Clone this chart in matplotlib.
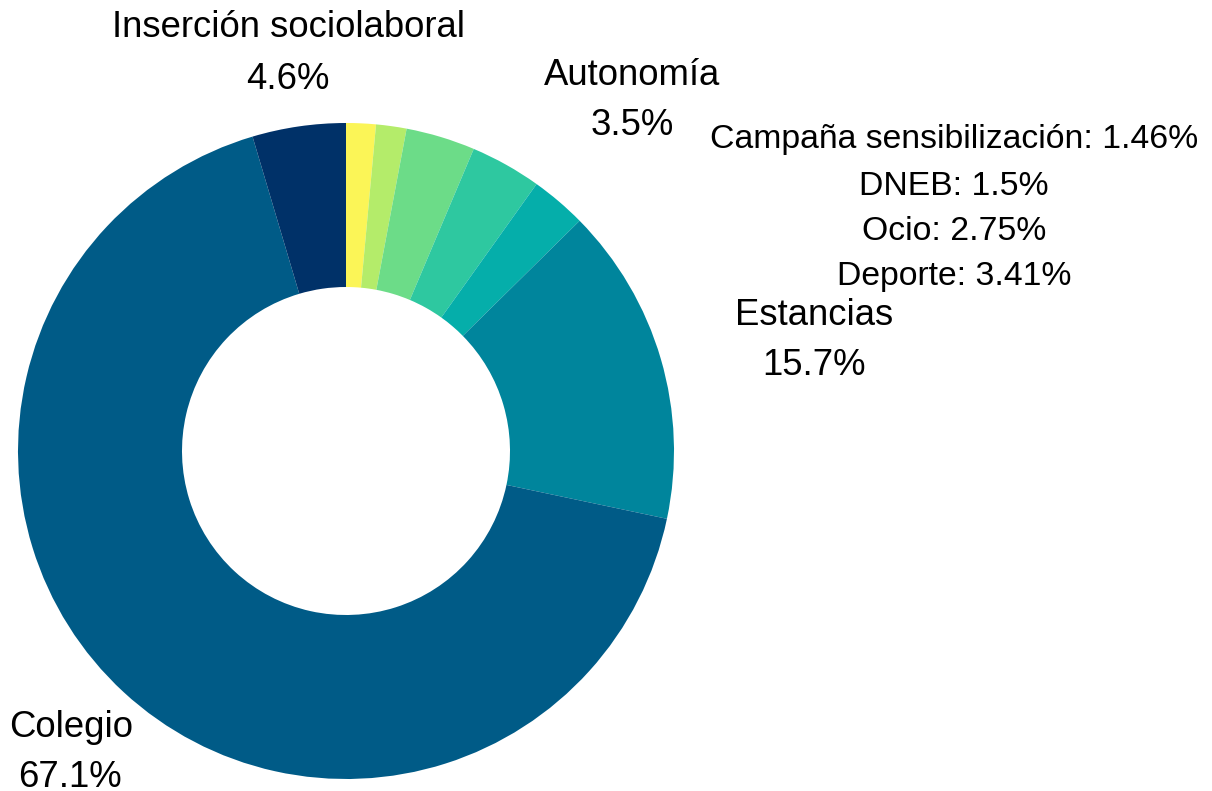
import matplotlib
matplotlib.use("Agg")
import matplotlib.pyplot as plt

plt.rcParams['font.family'] = ['Liberation Sans', 'DejaVu Sans']

categorias = ["Campaña sensibilización", "DNEB", "Deporte", "Autonomía", "Ocio",
              "Estancias", "Colegio", "Inserción sociolaboral"]
valores = [1.46, 1.5, 3.41, 3.5, 2.75, 15.7, 67.1, 4.6]
colores = ["#fbf557", "#b4ec6a", "#6cdc88", "#2ec8a0", "#05aeaa",
           "#00859c", "#005b87", "#003168"]

W, H = 1212, 791
fig = plt.figure(figsize=(W / 100, H / 100), dpi=100)

# donut centre (346, 451) px, outer radius 328 px
cx, cy, r = 346, 451, 328
ax = fig.add_axes([(cx - r) / W, (H - cy - r) / H, 2 * r / W, 2 * r / H])
ax.pie(valores, colors=colores, startangle=90, counterclock=False,
       radius=1, wedgeprops=dict(width=0.5, linewidth=0))
ax.set_xlim(-1, 1)
ax.set_ylim(-1, 1)
ax.set_aspect("equal")
ax.axis("off")


def txt(px, py, s, size):
    fig.text(px / W, 1 - py / H, s, ha="center", va="baseline", fontsize=size)


grande = 26.3
peq = 24.3

# etiquetas de dos lineas (nombre + porcentaje)
txt(288, 37, "Inserción sociolaboral", grande)
txt(288, 89, f"{valores[7]}%", grande)
txt(632, 85, "Autonomía", grande)
txt(632, 135, f"{valores[3]}%", grande)
txt(814, 325, "Estancias", grande)
txt(814, 375, f"{valores[5]}%", grande)
txt(71, 737, "Colegio", grande)
txt(70, 787, f"{valores[6]}%", grande)

# etiquetas pequeñas agrupadas
for nombre, py in [("Campaña sensibilización", 148), ("DNEB", 195),
                   ("Ocio", 240), ("Deporte", 285)]:
    v = valores[categorias.index(nombre)]
    txt(954, py, f"{nombre}: {v}%", peq)

fig.savefig("out.png", dpi=100)
